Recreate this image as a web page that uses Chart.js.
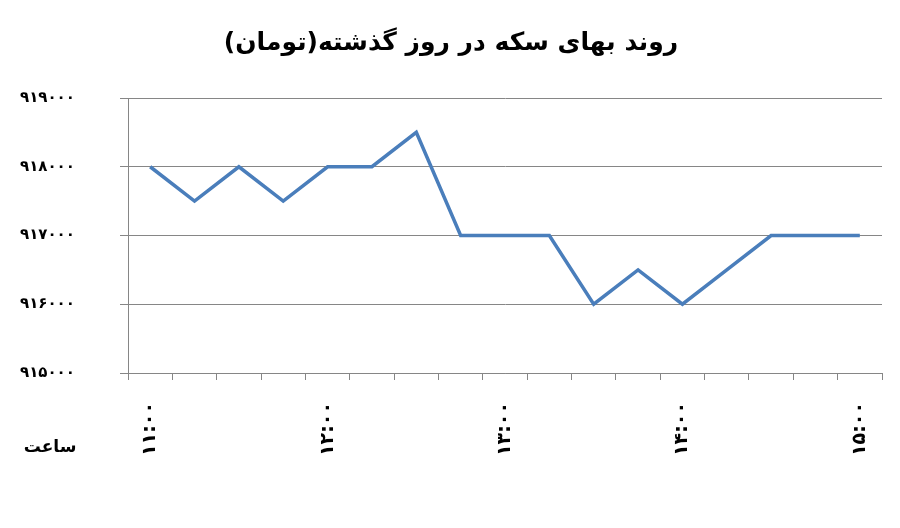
<!DOCTYPE html>
<html>
<head>
<meta charset="utf-8">
<script src="https://cdn.jsdelivr.net/npm/chart.js@4"></script>
<style>
  html, body { margin: 0; padding: 0; background: #fff; }
  #wrap { width: 900px; height: 528px; }
</style>
</head>
<body>
<div id="wrap"><canvas id="chart" width="900" height="528"></canvas></div>
<script>
const chartTitle = "روند بهای سکه در روز گذشته(تومان)";
const xAxisName = "ساعت";

// 15-minute steps from 11:00 to 15:00
const times = [
  "۱۱:۰۰", "۱۱:۱۵", "۱۱:۳۰", "۱۱:۴۵",
  "۱۲:۰۰", "۱۲:۱۵", "۱۲:۳۰", "۱۲:۴۵",
  "۱۳:۰۰", "۱۳:۱۵", "۱۳:۳۰", "۱۳:۴۵",
  "۱۴:۰۰", "۱۴:۱۵", "۱۴:۳۰", "۱۴:۴۵",
  "۱۵:۰۰"
];
const prices = [
  918000, 917500, 918000, 917500,
  918000, 918000, 918500, 917000,
  917000, 917000, 916000, 916500,
  916000, 916500, 917000, 917000,
  917000
];
const yTickValues = [915000, 916000, 917000, 918000, 919000];
const yTickLabels = ["۹۱۵۰۰۰", "۹۱۶۰۰۰", "۹۱۷۰۰۰", "۹۱۸۰۰۰", "۹۱۹۰۰۰"];

const FONT = "'DejaVu Sans', sans-serif";

const textPlugin = {
  id: "textPlugin",
  afterDraw(chart) {
    const ctx = chart.ctx;
    ctx.save();
    ctx.fillStyle = "#000";
    ctx.direction = "rtl";
    ctx.textAlign = "center";
    ctx.textBaseline = "middle";
    ctx.font = "bold 25px " + FONT;
    ctx.fillText(chartTitle, 451, 43);
    ctx.font = "bold 17px " + FONT;
    ctx.fillText(xAxisName, 50, 448);
    ctx.restore();
  }
};

new Chart(document.getElementById("chart").getContext("2d"), {
  type: "line",
  data: {
    labels: times,
    datasets: [{
      data: prices,
      borderColor: "#4A7EBB",
      borderWidth: 3.5,
      pointRadius: 0,
      tension: 0,
      fill: false
    }]
  },
  options: {
    responsive: false,
    animation: false,
    layout: { padding: { top: 98, right: 18, left: 20, bottom: 0 } },
    plugins: { legend: { display: false }, title: { display: false }, tooltip: { enabled: false } },
    scales: {
      x: {
        offset: true,
        grid: { offset: true, drawOnChartArea: false, color: "#868686", tickLength: 7, tickColor: "#868686" },
        border: { color: "#868686", width: 1 },
        ticks: {
          autoSkip: false,
          minRotation: 90,
          maxRotation: 90,
          padding: 22,
          color: "#000",
          font: { family: FONT, size: 19, weight: "bold" },
          callback: (v, i) => (i % 4 === 0 ? times[i] : "")
        },
        afterFit: s => { s.height = 155; s.paddingLeft = 0; s.paddingRight = 0; }
      },
      y: {
        min: 915000,
        max: 919000,
        afterBuildTicks: s => { s.ticks = yTickValues.map(v => ({ value: v })); },
        grid: { color: "#868686", tickLength: 8, tickColor: "#868686" },
        border: { color: "#868686", width: 1 },
        ticks: {
          crossAlign: "far",
          padding: 20,
          color: "#000",
          font: { family: FONT, size: 15, weight: "bold" },
          callback: v => yTickLabels[yTickValues.indexOf(v)]
        },
        afterFit: s => { s.width = 108; }
      }
    }
  },
  plugins: [textPlugin]
});
</script>
</body>
</html>
